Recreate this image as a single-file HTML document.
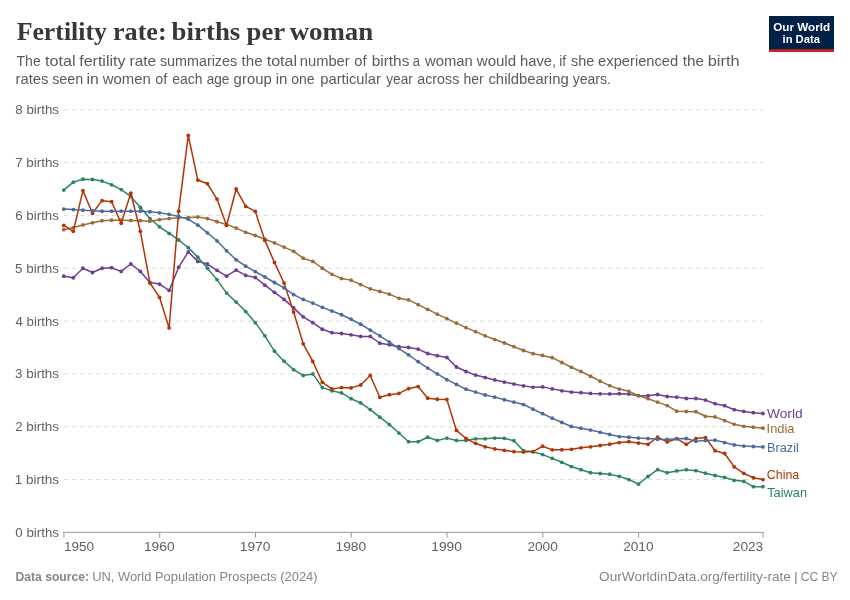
<!DOCTYPE html>
<html lang="en"><head><meta charset="utf-8"><title>Fertility rate: births per woman</title>
<style>
html,body{margin:0;padding:0;background:#fff;}
body{width:850px;height:600px;overflow:hidden;}
svg{display:block;font-family:"Liberation Sans",sans-serif;}
.title{font-family:"Liberation Serif",serif;font-weight:bold;font-size:26px;fill:#383838;}
.sub{fill:#5b5b5b;font-size:15px;}
.ax{fill:#616161;font-size:12.6px;}
.grid line{stroke:#ddd;stroke-width:1;stroke-dasharray:4,4;}
.foot{fill:#858585;font-size:13px;}
</style></head><body>
<svg width="850" height="600" viewBox="0 0 850 600">
<rect width="850" height="600" fill="#fff"/>
<g><text transform="matrix(0.9925 0 0 1 16.66 39.80)" class="title">Fertility</text>
<text transform="matrix(1.0053 0 0 1 112.99 39.80)" class="title">rate:</text>
<text transform="matrix(1.0339 0 0 1 171.62 39.80)" class="title">births</text>
<text transform="matrix(1.0263 0 0 1 246.55 39.80)" class="title">per</text>
<text transform="matrix(1.0338 0 0 1 289.64 39.80)" class="title">woman</text></g>
<g><text transform="matrix(0.9335 0 0 1 16.56 66.00)" class="sub">The</text>
<text transform="matrix(1.0787 0 0 1 45.03 66.00)" class="sub">total</text>
<text transform="matrix(1.0676 0 0 1 79.24 66.00)" class="sub">fertility</text>
<text transform="matrix(1.0305 0 0 1 129.54 66.00)" class="sub">rate</text>
<text transform="matrix(0.9567 0 0 1 159.91 66.00)" class="sub">summarizes</text>
<text transform="matrix(1.0129 0 0 1 241.54 66.00)" class="sub">the</text>
<text transform="matrix(1.0713 0 0 1 266.73 66.00)" class="sub">total</text>
<text transform="matrix(0.9829 0 0 1 299.77 66.00)" class="sub">number</text>
<text transform="matrix(0.9880 0 0 1 354.22 66.00)" class="sub">of</text>
<text transform="matrix(1.0296 0 0 1 371.67 66.00)" class="sub">births</text>
<text transform="matrix(0.8600 0 0 1 412.84 66.00)" class="sub">a</text>
<text transform="matrix(0.9907 0 0 1 424.97 66.00)" class="sub">woman</text>
<text transform="matrix(1.0035 0 0 1 476.77 66.00)" class="sub">would</text>
<text transform="matrix(0.9840 0 0 1 520.06 66.00)" class="sub">have,</text>
<text transform="matrix(0.9018 0 0 1 559.30 66.00)" class="sub">if</text>
<text transform="matrix(0.9622 0 0 1 571.01 66.00)" class="sub">she</text>
<text transform="matrix(0.9811 0 0 1 598.11 66.00)" class="sub">experienced</text>
<text transform="matrix(1.0129 0 0 1 682.74 66.00)" class="sub">the</text>
<text transform="matrix(1.0926 0 0 1 707.71 66.00)" class="sub">birth</text>
<text transform="matrix(0.9901 0 0 1 15.48 83.90)" class="sub">rates</text>
<text transform="matrix(0.9517 0 0 1 52.21 83.90)" class="sub">seen</text>
<text transform="matrix(1.0508 0 0 1 86.55 83.90)" class="sub">in</text>
<text transform="matrix(0.9949 0 0 1 102.77 83.90)" class="sub">women</text>
<text transform="matrix(0.9624 0 0 1 155.14 83.90)" class="sub">of</text>
<text transform="matrix(0.9286 0 0 1 172.34 83.90)" class="sub">each</text>
<text transform="matrix(0.9036 0 0 1 206.67 83.90)" class="sub">age</text>
<text transform="matrix(0.9955 0 0 1 233.62 83.90)" class="sub">group</text>
<text transform="matrix(1.0092 0 0 1 275.69 83.90)" class="sub">in</text>
<text transform="matrix(0.9330 0 0 1 291.26 83.90)" class="sub">one</text>
<text transform="matrix(0.9854 0 0 1 320.21 83.90)" class="sub">particular</text>
<text transform="matrix(0.9086 0 0 1 386.27 83.90)" class="sub">year</text>
<text transform="matrix(0.9500 0 0 1 417.34 83.90)" class="sub">across</text>
<text transform="matrix(0.9299 0 0 1 463.42 83.90)" class="sub">her</text>
<text transform="matrix(0.9936 0 0 1 488.40 83.90)" class="sub">childbearing</text>
<text transform="matrix(0.9368 0 0 1 572.66 83.90)" class="sub">years.</text></g>
<g><rect x="769" y="16" width="65" height="36" fill="#002147"/><rect x="769" y="49.3" width="65" height="2.7" fill="#CE261E"/><text transform="matrix(1.0072 0 0 1 773.24 30.70)" font-size="11.6" font-weight="bold" fill="#fff">Our World</text>
<text transform="matrix(0.9682 0 0 1 782.51 42.80)" font-size="11.6" font-weight="bold" fill="#fff">in Data</text></g>
<g class="grid"><line x1="63.9" x2="763" y1="479.53" y2="479.53"/><line x1="63.9" x2="763" y1="426.71" y2="426.71"/><line x1="63.9" x2="763" y1="373.89" y2="373.89"/><line x1="63.9" x2="763" y1="321.07" y2="321.07"/><line x1="63.9" x2="763" y1="268.25" y2="268.25"/><line x1="63.9" x2="763" y1="215.43" y2="215.43"/><line x1="63.9" x2="763" y1="162.61" y2="162.61"/><line x1="63.9" x2="763" y1="109.79" y2="109.79"/></g>
<g><text transform="matrix(1.0567 0 0 1 15.35 536.80)" class="ax">0 births</text>
<text transform="matrix(1.0694 0 0 1 14.83 483.98)" class="ax">1 births</text>
<text transform="matrix(1.0603 0 0 1 15.20 431.16)" class="ax">2 births</text>
<text transform="matrix(1.0623 0 0 1 15.12 378.34)" class="ax">3 births</text>
<text transform="matrix(1.0509 0 0 1 15.59 325.52)" class="ax">4 births</text>
<text transform="matrix(1.0633 0 0 1 15.08 272.70)" class="ax">5 births</text>
<text transform="matrix(1.0608 0 0 1 15.18 219.88)" class="ax">6 births</text>
<text transform="matrix(1.0599 0 0 1 15.22 167.06)" class="ax">7 births</text>
<text transform="matrix(1.0587 0 0 1 15.27 114.24)" class="ax">8 births</text></g>
<g stroke="#999" stroke-width="1" fill="none"><line x1="63" x2="763.7" y1="532.35" y2="532.35"/><line x1="63.95" x2="63.95" y1="532.35" y2="537.65"/><line x1="159.73" x2="159.73" y1="532.35" y2="537.65"/><line x1="255.51" x2="255.51" y1="532.35" y2="537.65"/><line x1="351.29" x2="351.29" y1="532.35" y2="537.65"/><line x1="447.07" x2="447.07" y1="532.35" y2="537.65"/><line x1="542.85" x2="542.85" y1="532.35" y2="537.65"/><line x1="638.63" x2="638.63" y1="532.35" y2="537.65"/><line x1="763.14" x2="763.14" y1="532.35" y2="537.65"/></g>
<g><text transform="matrix(1.0954 0 0 1 143.93 550.80)" class="ax">1960</text>
<text transform="matrix(1.0954 0 0 1 239.71 550.80)" class="ax">1970</text>
<text transform="matrix(1.0954 0 0 1 335.49 550.80)" class="ax">1980</text>
<text transform="matrix(1.0954 0 0 1 431.27 550.80)" class="ax">1990</text>
<text transform="matrix(1.0815 0 0 1 527.44 550.80)" class="ax">2000</text>
<text transform="matrix(1.0815 0 0 1 623.22 550.80)" class="ax">2010</text>
<text transform="matrix(1.0803 0 0 1 63.92 550.80)" class="ax">1950</text>
<text transform="matrix(1.0848 0 0 1 732.79 550.80)" class="ax">2023</text></g>
<g fill="#6D3E91"><polyline points="63.75,276.17 73.33,277.76 82.91,268.25 92.48,272.48 102.06,268.25 111.64,267.72 121.22,271.42 130.80,264.02 140.37,271.42 149.95,282.51 159.53,284.10 169.11,290.43 178.69,267.19 188.26,251.88 197.84,261.38 207.42,264.02 217.00,270.36 226.58,276.17 236.15,270.10 245.73,275.38 255.31,277.49 264.89,285.15 274.47,292.28 284.04,299.41 293.62,307.87 303.20,316.84 312.78,322.65 322.36,329.26 331.93,332.69 341.51,333.48 351.09,334.80 360.67,336.39 370.25,336.39 379.82,343.25 389.40,344.84 398.98,346.69 408.56,347.48 418.14,349.06 427.71,353.50 437.29,355.67 446.87,357.52 456.45,367.02 466.03,371.51 475.60,375.10 485.18,377.59 494.76,379.91 504.34,382.08 513.92,384.08 523.49,385.88 533.07,387.31 542.65,386.88 552.23,388.89 561.81,390.79 571.38,392.11 580.96,392.69 590.54,393.43 600.12,393.86 609.70,393.96 619.27,393.70 628.85,394.12 638.43,395.70 648.01,395.70 657.59,394.49 667.16,396.50 676.74,397.13 686.32,398.50 695.90,398.50 705.48,400.09 715.05,403.68 724.63,405.69 734.21,409.70 743.79,411.39 753.37,412.71 762.94,413.50" fill="none" stroke="#6D3E91" stroke-width="1.5" stroke-linejoin="round" stroke-linecap="round"/><circle cx="63.75" cy="276.17" r="1.9"/><circle cx="73.33" cy="277.76" r="1.9"/><circle cx="82.91" cy="268.25" r="1.9"/><circle cx="92.48" cy="272.48" r="1.9"/><circle cx="102.06" cy="268.25" r="1.9"/><circle cx="111.64" cy="267.72" r="1.9"/><circle cx="121.22" cy="271.42" r="1.9"/><circle cx="130.80" cy="264.02" r="1.9"/><circle cx="140.37" cy="271.42" r="1.9"/><circle cx="149.95" cy="282.51" r="1.9"/><circle cx="159.53" cy="284.10" r="1.9"/><circle cx="169.11" cy="290.43" r="1.9"/><circle cx="178.69" cy="267.19" r="1.9"/><circle cx="188.26" cy="251.88" r="1.9"/><circle cx="197.84" cy="261.38" r="1.9"/><circle cx="207.42" cy="264.02" r="1.9"/><circle cx="217.00" cy="270.36" r="1.9"/><circle cx="226.58" cy="276.17" r="1.9"/><circle cx="236.15" cy="270.10" r="1.9"/><circle cx="245.73" cy="275.38" r="1.9"/><circle cx="255.31" cy="277.49" r="1.9"/><circle cx="264.89" cy="285.15" r="1.9"/><circle cx="274.47" cy="292.28" r="1.9"/><circle cx="284.04" cy="299.41" r="1.9"/><circle cx="293.62" cy="307.87" r="1.9"/><circle cx="303.20" cy="316.84" r="1.9"/><circle cx="312.78" cy="322.65" r="1.9"/><circle cx="322.36" cy="329.26" r="1.9"/><circle cx="331.93" cy="332.69" r="1.9"/><circle cx="341.51" cy="333.48" r="1.9"/><circle cx="351.09" cy="334.80" r="1.9"/><circle cx="360.67" cy="336.39" r="1.9"/><circle cx="370.25" cy="336.39" r="1.9"/><circle cx="379.82" cy="343.25" r="1.9"/><circle cx="389.40" cy="344.84" r="1.9"/><circle cx="398.98" cy="346.69" r="1.9"/><circle cx="408.56" cy="347.48" r="1.9"/><circle cx="418.14" cy="349.06" r="1.9"/><circle cx="427.71" cy="353.50" r="1.9"/><circle cx="437.29" cy="355.67" r="1.9"/><circle cx="446.87" cy="357.52" r="1.9"/><circle cx="456.45" cy="367.02" r="1.9"/><circle cx="466.03" cy="371.51" r="1.9"/><circle cx="475.60" cy="375.10" r="1.9"/><circle cx="485.18" cy="377.59" r="1.9"/><circle cx="494.76" cy="379.91" r="1.9"/><circle cx="504.34" cy="382.08" r="1.9"/><circle cx="513.92" cy="384.08" r="1.9"/><circle cx="523.49" cy="385.88" r="1.9"/><circle cx="533.07" cy="387.31" r="1.9"/><circle cx="542.65" cy="386.88" r="1.9"/><circle cx="552.23" cy="388.89" r="1.9"/><circle cx="561.81" cy="390.79" r="1.9"/><circle cx="571.38" cy="392.11" r="1.9"/><circle cx="580.96" cy="392.69" r="1.9"/><circle cx="590.54" cy="393.43" r="1.9"/><circle cx="600.12" cy="393.86" r="1.9"/><circle cx="609.70" cy="393.96" r="1.9"/><circle cx="619.27" cy="393.70" r="1.9"/><circle cx="628.85" cy="394.12" r="1.9"/><circle cx="638.43" cy="395.70" r="1.9"/><circle cx="648.01" cy="395.70" r="1.9"/><circle cx="657.59" cy="394.49" r="1.9"/><circle cx="667.16" cy="396.50" r="1.9"/><circle cx="676.74" cy="397.13" r="1.9"/><circle cx="686.32" cy="398.50" r="1.9"/><circle cx="695.90" cy="398.50" r="1.9"/><circle cx="705.48" cy="400.09" r="1.9"/><circle cx="715.05" cy="403.68" r="1.9"/><circle cx="724.63" cy="405.69" r="1.9"/><circle cx="734.21" cy="409.70" r="1.9"/><circle cx="743.79" cy="411.39" r="1.9"/><circle cx="753.37" cy="412.71" r="1.9"/><circle cx="762.94" cy="413.50" r="1.9"/></g>
<g fill="#2C8465"><polyline points="63.75,190.08 73.33,182.15 82.91,179.20 92.48,179.51 102.06,181.10 111.64,184.79 121.22,189.55 130.80,196.41 140.37,207.51 149.95,218.60 159.53,226.79 169.11,233.39 178.69,239.99 188.26,247.65 197.84,257.16 207.42,268.25 217.00,279.61 226.58,293.08 236.15,302.05 245.73,311.56 255.31,322.65 264.89,335.86 274.47,351.18 284.04,361.21 293.62,369.66 303.20,375.47 312.78,373.89 322.36,387.62 331.93,390.79 341.51,392.91 351.09,398.72 360.67,402.94 370.25,409.54 379.82,417.20 389.40,424.60 398.98,433.05 408.56,441.71 418.14,441.71 427.71,437.27 437.29,440.44 446.87,438.12 456.45,440.44 466.03,440.44 475.60,438.86 485.18,438.86 494.76,438.12 504.34,438.33 513.92,440.71 523.49,450.74 533.07,451.80 542.65,454.60 552.23,458.40 561.81,462.31 571.38,466.54 580.96,469.71 590.54,472.66 600.12,473.51 609.70,474.25 619.27,476.36 628.85,479.53 638.43,484.13 648.01,476.52 657.59,469.71 667.16,472.66 676.74,470.92 686.32,469.71 695.90,470.66 705.48,473.19 715.05,475.52 724.63,477.42 734.21,480.32 743.79,481.33 753.37,486.71 762.94,486.71" fill="none" stroke="#2C8465" stroke-width="1.5" stroke-linejoin="round" stroke-linecap="round"/><circle cx="63.75" cy="190.08" r="1.9"/><circle cx="73.33" cy="182.15" r="1.9"/><circle cx="82.91" cy="179.20" r="1.9"/><circle cx="92.48" cy="179.51" r="1.9"/><circle cx="102.06" cy="181.10" r="1.9"/><circle cx="111.64" cy="184.79" r="1.9"/><circle cx="121.22" cy="189.55" r="1.9"/><circle cx="130.80" cy="196.41" r="1.9"/><circle cx="140.37" cy="207.51" r="1.9"/><circle cx="149.95" cy="218.60" r="1.9"/><circle cx="159.53" cy="226.79" r="1.9"/><circle cx="169.11" cy="233.39" r="1.9"/><circle cx="178.69" cy="239.99" r="1.9"/><circle cx="188.26" cy="247.65" r="1.9"/><circle cx="197.84" cy="257.16" r="1.9"/><circle cx="207.42" cy="268.25" r="1.9"/><circle cx="217.00" cy="279.61" r="1.9"/><circle cx="226.58" cy="293.08" r="1.9"/><circle cx="236.15" cy="302.05" r="1.9"/><circle cx="245.73" cy="311.56" r="1.9"/><circle cx="255.31" cy="322.65" r="1.9"/><circle cx="264.89" cy="335.86" r="1.9"/><circle cx="274.47" cy="351.18" r="1.9"/><circle cx="284.04" cy="361.21" r="1.9"/><circle cx="293.62" cy="369.66" r="1.9"/><circle cx="303.20" cy="375.47" r="1.9"/><circle cx="312.78" cy="373.89" r="1.9"/><circle cx="322.36" cy="387.62" r="1.9"/><circle cx="331.93" cy="390.79" r="1.9"/><circle cx="341.51" cy="392.91" r="1.9"/><circle cx="351.09" cy="398.72" r="1.9"/><circle cx="360.67" cy="402.94" r="1.9"/><circle cx="370.25" cy="409.54" r="1.9"/><circle cx="379.82" cy="417.20" r="1.9"/><circle cx="389.40" cy="424.60" r="1.9"/><circle cx="398.98" cy="433.05" r="1.9"/><circle cx="408.56" cy="441.71" r="1.9"/><circle cx="418.14" cy="441.71" r="1.9"/><circle cx="427.71" cy="437.27" r="1.9"/><circle cx="437.29" cy="440.44" r="1.9"/><circle cx="446.87" cy="438.12" r="1.9"/><circle cx="456.45" cy="440.44" r="1.9"/><circle cx="466.03" cy="440.44" r="1.9"/><circle cx="475.60" cy="438.86" r="1.9"/><circle cx="485.18" cy="438.86" r="1.9"/><circle cx="494.76" cy="438.12" r="1.9"/><circle cx="504.34" cy="438.33" r="1.9"/><circle cx="513.92" cy="440.71" r="1.9"/><circle cx="523.49" cy="450.74" r="1.9"/><circle cx="533.07" cy="451.80" r="1.9"/><circle cx="542.65" cy="454.60" r="1.9"/><circle cx="552.23" cy="458.40" r="1.9"/><circle cx="561.81" cy="462.31" r="1.9"/><circle cx="571.38" cy="466.54" r="1.9"/><circle cx="580.96" cy="469.71" r="1.9"/><circle cx="590.54" cy="472.66" r="1.9"/><circle cx="600.12" cy="473.51" r="1.9"/><circle cx="609.70" cy="474.25" r="1.9"/><circle cx="619.27" cy="476.36" r="1.9"/><circle cx="628.85" cy="479.53" r="1.9"/><circle cx="638.43" cy="484.13" r="1.9"/><circle cx="648.01" cy="476.52" r="1.9"/><circle cx="657.59" cy="469.71" r="1.9"/><circle cx="667.16" cy="472.66" r="1.9"/><circle cx="676.74" cy="470.92" r="1.9"/><circle cx="686.32" cy="469.71" r="1.9"/><circle cx="695.90" cy="470.66" r="1.9"/><circle cx="705.48" cy="473.19" r="1.9"/><circle cx="715.05" cy="475.52" r="1.9"/><circle cx="724.63" cy="477.42" r="1.9"/><circle cx="734.21" cy="480.32" r="1.9"/><circle cx="743.79" cy="481.33" r="1.9"/><circle cx="753.37" cy="486.71" r="1.9"/><circle cx="762.94" cy="486.71" r="1.9"/></g>
<g fill="#996D39"><polyline points="63.75,229.69 73.33,227.58 82.91,224.94 92.48,222.82 102.06,220.71 111.64,220.18 121.22,220.18 130.80,220.45 140.37,220.71 149.95,221.24 159.53,219.66 169.11,218.60 178.69,217.81 188.26,217.54 197.84,217.01 207.42,218.60 217.00,221.77 226.58,224.41 236.15,228.11 245.73,232.33 255.31,235.50 264.89,239.20 274.47,242.90 284.04,247.12 293.62,251.35 303.20,258.21 312.78,261.38 322.36,268.25 331.93,274.32 341.51,278.55 351.09,280.13 360.67,284.62 370.25,288.85 379.82,291.49 389.40,294.13 398.98,298.36 408.56,299.94 418.14,304.70 427.71,309.45 437.29,314.20 446.87,318.69 456.45,323.18 466.03,327.67 475.60,331.63 485.18,335.86 494.76,339.56 504.34,342.99 513.92,346.69 523.49,350.49 533.07,353.66 542.65,355.40 552.23,357.67 561.81,362.48 571.38,367.29 580.96,371.51 590.54,376.27 600.12,381.18 609.70,385.67 619.27,389.10 628.85,391.32 638.43,395.55 648.01,398.72 657.59,402.10 667.16,405.58 676.74,411.13 686.32,411.50 695.90,411.71 705.48,416.30 715.05,416.89 724.63,420.53 734.21,424.33 743.79,426.29 753.37,427.24 762.94,428.14" fill="none" stroke="#996D39" stroke-width="1.5" stroke-linejoin="round" stroke-linecap="round"/><circle cx="63.75" cy="229.69" r="1.9"/><circle cx="73.33" cy="227.58" r="1.9"/><circle cx="82.91" cy="224.94" r="1.9"/><circle cx="92.48" cy="222.82" r="1.9"/><circle cx="102.06" cy="220.71" r="1.9"/><circle cx="111.64" cy="220.18" r="1.9"/><circle cx="121.22" cy="220.18" r="1.9"/><circle cx="130.80" cy="220.45" r="1.9"/><circle cx="140.37" cy="220.71" r="1.9"/><circle cx="149.95" cy="221.24" r="1.9"/><circle cx="159.53" cy="219.66" r="1.9"/><circle cx="169.11" cy="218.60" r="1.9"/><circle cx="178.69" cy="217.81" r="1.9"/><circle cx="188.26" cy="217.54" r="1.9"/><circle cx="197.84" cy="217.01" r="1.9"/><circle cx="207.42" cy="218.60" r="1.9"/><circle cx="217.00" cy="221.77" r="1.9"/><circle cx="226.58" cy="224.41" r="1.9"/><circle cx="236.15" cy="228.11" r="1.9"/><circle cx="245.73" cy="232.33" r="1.9"/><circle cx="255.31" cy="235.50" r="1.9"/><circle cx="264.89" cy="239.20" r="1.9"/><circle cx="274.47" cy="242.90" r="1.9"/><circle cx="284.04" cy="247.12" r="1.9"/><circle cx="293.62" cy="251.35" r="1.9"/><circle cx="303.20" cy="258.21" r="1.9"/><circle cx="312.78" cy="261.38" r="1.9"/><circle cx="322.36" cy="268.25" r="1.9"/><circle cx="331.93" cy="274.32" r="1.9"/><circle cx="341.51" cy="278.55" r="1.9"/><circle cx="351.09" cy="280.13" r="1.9"/><circle cx="360.67" cy="284.62" r="1.9"/><circle cx="370.25" cy="288.85" r="1.9"/><circle cx="379.82" cy="291.49" r="1.9"/><circle cx="389.40" cy="294.13" r="1.9"/><circle cx="398.98" cy="298.36" r="1.9"/><circle cx="408.56" cy="299.94" r="1.9"/><circle cx="418.14" cy="304.70" r="1.9"/><circle cx="427.71" cy="309.45" r="1.9"/><circle cx="437.29" cy="314.20" r="1.9"/><circle cx="446.87" cy="318.69" r="1.9"/><circle cx="456.45" cy="323.18" r="1.9"/><circle cx="466.03" cy="327.67" r="1.9"/><circle cx="475.60" cy="331.63" r="1.9"/><circle cx="485.18" cy="335.86" r="1.9"/><circle cx="494.76" cy="339.56" r="1.9"/><circle cx="504.34" cy="342.99" r="1.9"/><circle cx="513.92" cy="346.69" r="1.9"/><circle cx="523.49" cy="350.49" r="1.9"/><circle cx="533.07" cy="353.66" r="1.9"/><circle cx="542.65" cy="355.40" r="1.9"/><circle cx="552.23" cy="357.67" r="1.9"/><circle cx="561.81" cy="362.48" r="1.9"/><circle cx="571.38" cy="367.29" r="1.9"/><circle cx="580.96" cy="371.51" r="1.9"/><circle cx="590.54" cy="376.27" r="1.9"/><circle cx="600.12" cy="381.18" r="1.9"/><circle cx="609.70" cy="385.67" r="1.9"/><circle cx="619.27" cy="389.10" r="1.9"/><circle cx="628.85" cy="391.32" r="1.9"/><circle cx="638.43" cy="395.55" r="1.9"/><circle cx="648.01" cy="398.72" r="1.9"/><circle cx="657.59" cy="402.10" r="1.9"/><circle cx="667.16" cy="405.58" r="1.9"/><circle cx="676.74" cy="411.13" r="1.9"/><circle cx="686.32" cy="411.50" r="1.9"/><circle cx="695.90" cy="411.71" r="1.9"/><circle cx="705.48" cy="416.30" r="1.9"/><circle cx="715.05" cy="416.89" r="1.9"/><circle cx="724.63" cy="420.53" r="1.9"/><circle cx="734.21" cy="424.33" r="1.9"/><circle cx="743.79" cy="426.29" r="1.9"/><circle cx="753.37" cy="427.24" r="1.9"/><circle cx="762.94" cy="428.14" r="1.9"/></g>
<g fill="#B13507"><polyline points="63.75,225.47 73.33,231.28 82.91,190.60 92.48,213.32 102.06,200.64 111.64,201.70 121.22,223.35 130.80,193.25 140.37,231.28 149.95,283.04 159.53,297.30 169.11,327.94 178.69,211.20 188.26,135.41 197.84,180.04 207.42,183.74 217.00,199.06 226.58,225.47 236.15,189.02 245.73,206.45 255.31,211.42 264.89,240.41 274.47,262.44 284.04,283.04 293.62,312.09 303.20,343.78 312.78,361.48 322.36,382.34 331.93,388.89 341.51,387.62 351.09,387.89 360.67,384.98 370.25,375.47 379.82,397.29 389.40,394.70 398.98,393.43 408.56,388.68 418.14,386.57 427.71,398.19 437.29,399.24 446.87,399.51 456.45,430.41 466.03,438.49 475.60,443.30 485.18,446.78 494.76,448.89 504.34,450.32 513.92,451.69 523.49,452.06 533.07,451.54 542.65,446.25 552.23,449.85 561.81,449.74 571.38,449.32 580.96,447.84 590.54,446.78 600.12,445.51 609.70,444.25 619.27,442.56 628.85,441.71 638.43,443.08 648.01,444.30 657.59,437.27 667.16,441.92 676.74,438.70 686.32,444.30 695.90,438.59 705.48,437.54 715.05,450.74 724.63,453.49 734.21,466.85 743.79,473.35 753.37,477.73 762.94,479.53" fill="none" stroke="#B13507" stroke-width="1.5" stroke-linejoin="round" stroke-linecap="round"/><circle cx="63.75" cy="225.47" r="1.9"/><circle cx="73.33" cy="231.28" r="1.9"/><circle cx="82.91" cy="190.60" r="1.9"/><circle cx="92.48" cy="213.32" r="1.9"/><circle cx="102.06" cy="200.64" r="1.9"/><circle cx="111.64" cy="201.70" r="1.9"/><circle cx="121.22" cy="223.35" r="1.9"/><circle cx="130.80" cy="193.25" r="1.9"/><circle cx="140.37" cy="231.28" r="1.9"/><circle cx="149.95" cy="283.04" r="1.9"/><circle cx="159.53" cy="297.30" r="1.9"/><circle cx="169.11" cy="327.94" r="1.9"/><circle cx="178.69" cy="211.20" r="1.9"/><circle cx="188.26" cy="135.41" r="1.9"/><circle cx="197.84" cy="180.04" r="1.9"/><circle cx="207.42" cy="183.74" r="1.9"/><circle cx="217.00" cy="199.06" r="1.9"/><circle cx="226.58" cy="225.47" r="1.9"/><circle cx="236.15" cy="189.02" r="1.9"/><circle cx="245.73" cy="206.45" r="1.9"/><circle cx="255.31" cy="211.42" r="1.9"/><circle cx="264.89" cy="240.41" r="1.9"/><circle cx="274.47" cy="262.44" r="1.9"/><circle cx="284.04" cy="283.04" r="1.9"/><circle cx="293.62" cy="312.09" r="1.9"/><circle cx="303.20" cy="343.78" r="1.9"/><circle cx="312.78" cy="361.48" r="1.9"/><circle cx="322.36" cy="382.34" r="1.9"/><circle cx="331.93" cy="388.89" r="1.9"/><circle cx="341.51" cy="387.62" r="1.9"/><circle cx="351.09" cy="387.89" r="1.9"/><circle cx="360.67" cy="384.98" r="1.9"/><circle cx="370.25" cy="375.47" r="1.9"/><circle cx="379.82" cy="397.29" r="1.9"/><circle cx="389.40" cy="394.70" r="1.9"/><circle cx="398.98" cy="393.43" r="1.9"/><circle cx="408.56" cy="388.68" r="1.9"/><circle cx="418.14" cy="386.57" r="1.9"/><circle cx="427.71" cy="398.19" r="1.9"/><circle cx="437.29" cy="399.24" r="1.9"/><circle cx="446.87" cy="399.51" r="1.9"/><circle cx="456.45" cy="430.41" r="1.9"/><circle cx="466.03" cy="438.49" r="1.9"/><circle cx="475.60" cy="443.30" r="1.9"/><circle cx="485.18" cy="446.78" r="1.9"/><circle cx="494.76" cy="448.89" r="1.9"/><circle cx="504.34" cy="450.32" r="1.9"/><circle cx="513.92" cy="451.69" r="1.9"/><circle cx="523.49" cy="452.06" r="1.9"/><circle cx="533.07" cy="451.54" r="1.9"/><circle cx="542.65" cy="446.25" r="1.9"/><circle cx="552.23" cy="449.85" r="1.9"/><circle cx="561.81" cy="449.74" r="1.9"/><circle cx="571.38" cy="449.32" r="1.9"/><circle cx="580.96" cy="447.84" r="1.9"/><circle cx="590.54" cy="446.78" r="1.9"/><circle cx="600.12" cy="445.51" r="1.9"/><circle cx="609.70" cy="444.25" r="1.9"/><circle cx="619.27" cy="442.56" r="1.9"/><circle cx="628.85" cy="441.71" r="1.9"/><circle cx="638.43" cy="443.08" r="1.9"/><circle cx="648.01" cy="444.30" r="1.9"/><circle cx="657.59" cy="437.27" r="1.9"/><circle cx="667.16" cy="441.92" r="1.9"/><circle cx="676.74" cy="438.70" r="1.9"/><circle cx="686.32" cy="444.30" r="1.9"/><circle cx="695.90" cy="438.59" r="1.9"/><circle cx="705.48" cy="437.54" r="1.9"/><circle cx="715.05" cy="450.74" r="1.9"/><circle cx="724.63" cy="453.49" r="1.9"/><circle cx="734.21" cy="466.85" r="1.9"/><circle cx="743.79" cy="473.35" r="1.9"/><circle cx="753.37" cy="477.73" r="1.9"/><circle cx="762.94" cy="479.53" r="1.9"/></g>
<g fill="#4C6A9C"><polyline points="63.75,209.09 73.33,209.62 82.91,210.15 92.48,210.68 102.06,211.20 111.64,211.20 121.22,211.20 130.80,211.20 140.37,211.20 149.95,211.73 159.53,212.79 169.11,214.37 178.69,216.49 188.26,219.13 197.84,225.20 207.42,232.86 217.00,240.78 226.58,250.82 236.15,259.80 245.73,266.14 255.31,271.68 264.89,276.97 274.47,282.51 284.04,287.79 293.62,294.66 303.20,299.41 312.78,303.11 322.36,307.34 331.93,311.03 341.51,314.73 351.09,319.22 360.67,324.24 370.25,330.05 379.82,335.86 389.40,342.20 398.98,348.54 408.56,354.87 418.14,361.74 427.71,368.08 437.29,373.89 446.87,379.70 456.45,384.45 466.03,389.21 475.60,392.11 485.18,395.02 494.76,397.13 504.34,399.77 513.92,402.10 523.49,404.53 533.07,409.17 542.65,413.72 552.23,418.15 561.81,422.48 571.38,426.50 580.96,428.19 590.54,430.09 600.12,432.31 609.70,434.42 619.27,436.53 628.85,437.27 638.43,438.12 648.01,438.59 657.59,439.23 667.16,439.44 676.74,438.70 686.32,438.49 695.90,441.24 705.48,440.50 715.05,440.13 724.63,442.56 734.21,444.93 743.79,446.09 753.37,446.52 762.94,446.94" fill="none" stroke="#4C6A9C" stroke-width="1.5" stroke-linejoin="round" stroke-linecap="round"/><circle cx="63.75" cy="209.09" r="1.9"/><circle cx="73.33" cy="209.62" r="1.9"/><circle cx="82.91" cy="210.15" r="1.9"/><circle cx="92.48" cy="210.68" r="1.9"/><circle cx="102.06" cy="211.20" r="1.9"/><circle cx="111.64" cy="211.20" r="1.9"/><circle cx="121.22" cy="211.20" r="1.9"/><circle cx="130.80" cy="211.20" r="1.9"/><circle cx="140.37" cy="211.20" r="1.9"/><circle cx="149.95" cy="211.73" r="1.9"/><circle cx="159.53" cy="212.79" r="1.9"/><circle cx="169.11" cy="214.37" r="1.9"/><circle cx="178.69" cy="216.49" r="1.9"/><circle cx="188.26" cy="219.13" r="1.9"/><circle cx="197.84" cy="225.20" r="1.9"/><circle cx="207.42" cy="232.86" r="1.9"/><circle cx="217.00" cy="240.78" r="1.9"/><circle cx="226.58" cy="250.82" r="1.9"/><circle cx="236.15" cy="259.80" r="1.9"/><circle cx="245.73" cy="266.14" r="1.9"/><circle cx="255.31" cy="271.68" r="1.9"/><circle cx="264.89" cy="276.97" r="1.9"/><circle cx="274.47" cy="282.51" r="1.9"/><circle cx="284.04" cy="287.79" r="1.9"/><circle cx="293.62" cy="294.66" r="1.9"/><circle cx="303.20" cy="299.41" r="1.9"/><circle cx="312.78" cy="303.11" r="1.9"/><circle cx="322.36" cy="307.34" r="1.9"/><circle cx="331.93" cy="311.03" r="1.9"/><circle cx="341.51" cy="314.73" r="1.9"/><circle cx="351.09" cy="319.22" r="1.9"/><circle cx="360.67" cy="324.24" r="1.9"/><circle cx="370.25" cy="330.05" r="1.9"/><circle cx="379.82" cy="335.86" r="1.9"/><circle cx="389.40" cy="342.20" r="1.9"/><circle cx="398.98" cy="348.54" r="1.9"/><circle cx="408.56" cy="354.87" r="1.9"/><circle cx="418.14" cy="361.74" r="1.9"/><circle cx="427.71" cy="368.08" r="1.9"/><circle cx="437.29" cy="373.89" r="1.9"/><circle cx="446.87" cy="379.70" r="1.9"/><circle cx="456.45" cy="384.45" r="1.9"/><circle cx="466.03" cy="389.21" r="1.9"/><circle cx="475.60" cy="392.11" r="1.9"/><circle cx="485.18" cy="395.02" r="1.9"/><circle cx="494.76" cy="397.13" r="1.9"/><circle cx="504.34" cy="399.77" r="1.9"/><circle cx="513.92" cy="402.10" r="1.9"/><circle cx="523.49" cy="404.53" r="1.9"/><circle cx="533.07" cy="409.17" r="1.9"/><circle cx="542.65" cy="413.72" r="1.9"/><circle cx="552.23" cy="418.15" r="1.9"/><circle cx="561.81" cy="422.48" r="1.9"/><circle cx="571.38" cy="426.50" r="1.9"/><circle cx="580.96" cy="428.19" r="1.9"/><circle cx="590.54" cy="430.09" r="1.9"/><circle cx="600.12" cy="432.31" r="1.9"/><circle cx="609.70" cy="434.42" r="1.9"/><circle cx="619.27" cy="436.53" r="1.9"/><circle cx="628.85" cy="437.27" r="1.9"/><circle cx="638.43" cy="438.12" r="1.9"/><circle cx="648.01" cy="438.59" r="1.9"/><circle cx="657.59" cy="439.23" r="1.9"/><circle cx="667.16" cy="439.44" r="1.9"/><circle cx="676.74" cy="438.70" r="1.9"/><circle cx="686.32" cy="438.49" r="1.9"/><circle cx="695.90" cy="441.24" r="1.9"/><circle cx="705.48" cy="440.50" r="1.9"/><circle cx="715.05" cy="440.13" r="1.9"/><circle cx="724.63" cy="442.56" r="1.9"/><circle cx="734.21" cy="444.93" r="1.9"/><circle cx="743.79" cy="446.09" r="1.9"/><circle cx="753.37" cy="446.52" r="1.9"/><circle cx="762.94" cy="446.94" r="1.9"/></g>
<g><text transform="matrix(1.0926 0 0 1 766.95 418.00)" font-size="12.6" fill="#6D3E91">World</text>
<text transform="matrix(1.0208 0 0 1 766.60 432.70)" font-size="12.6" fill="#996D39">India</text>
<text transform="matrix(1.0120 0 0 1 766.95 451.50)" font-size="12.6" fill="#4C6A9C">Brazil</text>
<text transform="matrix(0.9827 0 0 1 766.83 478.70)" font-size="12.6" fill="#B13507">China</text>
<text transform="matrix(1.0149 0 0 1 767.20 496.50)" font-size="12.6" fill="#2C8465">Taiwan</text></g>
<g><text transform="matrix(0.9339 0 0 1 15.57 580.80)" class="foot" font-weight="bold">Data source:</text>
<text transform="matrix(0.9917 0 0 1 92.21 580.80)" class="foot">UN, World Population Prospects (2024)</text>
<text transform="matrix(1.0475 0 0 1 599.12 580.80)" class="foot">OurWorldinData.org/fertility-rate</text>
<text transform="matrix(1.1200 0 0 1 794.10 580.80)" class="foot">|</text>
<text transform="matrix(0.9310 0 0 1 800.65 580.80)" class="foot">CC BY</text></g>
</svg></body></html>
